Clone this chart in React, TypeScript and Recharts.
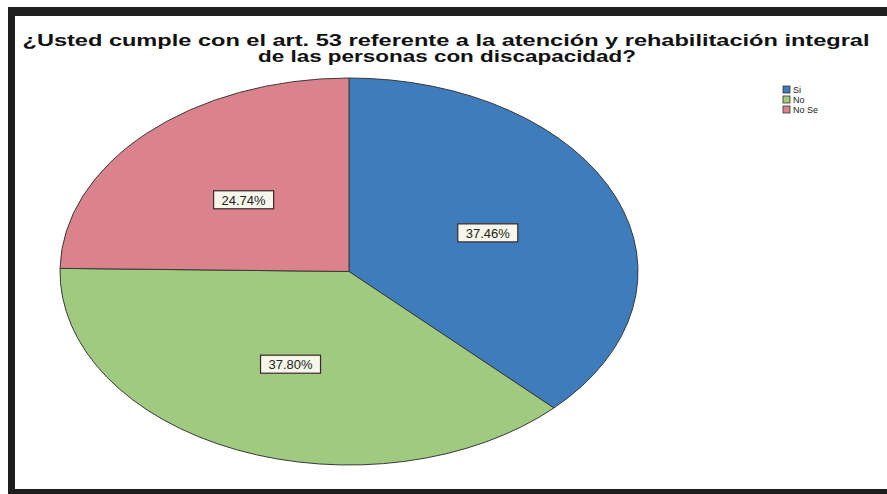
import React from 'react';
import { PieChart, Pie, Cell, Legend } from 'recharts';

const categories = ['Si', 'No', 'No Se'];
const values = [37.46, 37.8, 24.74];
const labels = ['37.46%', '37.80%', '24.74%'];
const colors = ['#3f7cbc', '#9fca7f', '#da838c'];
const titleLines = [
  '¿Usted cumple con el art. 53 referente a la atención y rehabilitación  integral',
  'de las personas con discapacidad?',
];

const data = categories.map((name, i) => ({ name, value: values[i], label: labels[i] }));

const RX_FACTOR = 289 / 193.5;
const RAD = Math.PI / 180;

const EllipseSector = (props: any) => {
  const { cx, cy, outerRadius, startAngle, endAngle, fill } = props;
  const ry = outerRadius;
  const rx = outerRadius * RX_FACTOR;
  const p = (a: number) => [cx + rx * Math.cos(a * RAD), cy - ry * Math.sin(a * RAD)];
  const [x1, y1] = p(startAngle);
  const [x2, y2] = p(endAngle);
  const delta = Math.abs(endAngle - startAngle);
  const large = delta > 180 ? 1 : 0;
  const sweep = endAngle < startAngle ? 1 : 0;
  const d = `M${cx},${cy} L${x1},${y1} A${rx},${ry} 0 ${large} ${sweep} ${x2},${y2} Z`;
  return <path d={d} fill={fill} stroke="#3a3a3a" strokeWidth={1} />;
};

const renderLabel = (props: any) => {
  const { cx, cy, midAngle, outerRadius, index } = props;
  const f = 0.52;
  const x = cx + outerRadius * RX_FACTOR * f * Math.cos(midAngle * RAD);
  const y = cy - outerRadius * f * Math.sin(midAngle * RAD);
  return (
    <g>
      <rect x={x - 30} y={y - 9} width={60} height={18} fill="#f6f6ea" stroke="#3a2a2a" strokeWidth={1.2} />
      <text x={x} y={y + 5} textAnchor="middle" fontFamily="Liberation Sans, Arial, sans-serif" fontSize={13} fill="#222">
        {data[index].label}
      </text>
    </g>
  );
};

const renderLegend = () => {
  return (
    <svg width={80} height={32} style={{ overflow: 'visible' }}>
      {categories.map((name, i) => (
        <g key={name}>
          <rect x={0} y={i * 10} width={7} height={7} fill={colors[i]} stroke="#333" strokeWidth={0.8} />
          <text x={10} y={i * 10 + 7} fontFamily="Liberation Sans, Arial, sans-serif" fontSize={9} fill="#222">
            {name}
          </text>
        </g>
      ))}
    </svg>
  );
};

export default function App() {
  return (
    <div style={{ position: 'absolute', left: 0, top: 0, width: 887, height: 494, background: '#fff' }}>
      <svg width={887} height={494} style={{ position: 'absolute', left: 0, top: 0 }}>
        <rect x={0} y={0} width={887} height={494} fill="#ffffff" />
        <rect x={8} y={7} width={879} height={9} fill="#1e1e1e" />
        <rect x={8} y={7} width={7} height={487} fill="#1e1e1e" />
        <rect x={8} y={489} width={879} height={5} fill="#1e1e1e" />
        <text x={446} y={46} textAnchor="middle" fontFamily="Liberation Sans, Arial, sans-serif" fontWeight="bold" fontSize={16} fill="#111" textLength={847} lengthAdjust="spacingAndGlyphs">
          {titleLines[0]}
        </text>
        <text x={447} y={62} textAnchor="middle" fontFamily="Liberation Sans, Arial, sans-serif" fontWeight="bold" fontSize={16} fill="#111" textLength={378} lengthAdjust="spacingAndGlyphs">
          {titleLines[1]}
        </text>
      </svg>
      <div style={{ position: 'absolute', left: 0, top: 0 }}>
        <PieChart width={887} height={494} margin={{ top: 0, right: 0, bottom: 0, left: 0 }}>
          <Pie
            data={data}
            dataKey="value"
            nameKey="name"
            cx={349}
            cy={271.5}
            outerRadius={193.5}
            startAngle={90}
            endAngle={-270}
            shape={EllipseSector}
            label={renderLabel}
            labelLine={false}
            isAnimationActive={false}
          >
            {data.map((d, i) => (
              <Cell key={d.name} fill={colors[i]} />
            ))}
          </Pie>
          <Legend
            content={renderLegend}
            wrapperStyle={{ position: 'absolute', left: 783, top: 86, width: 80, height: 32 }}
          />
        </PieChart>
      </div>
    </div>
  );
}
